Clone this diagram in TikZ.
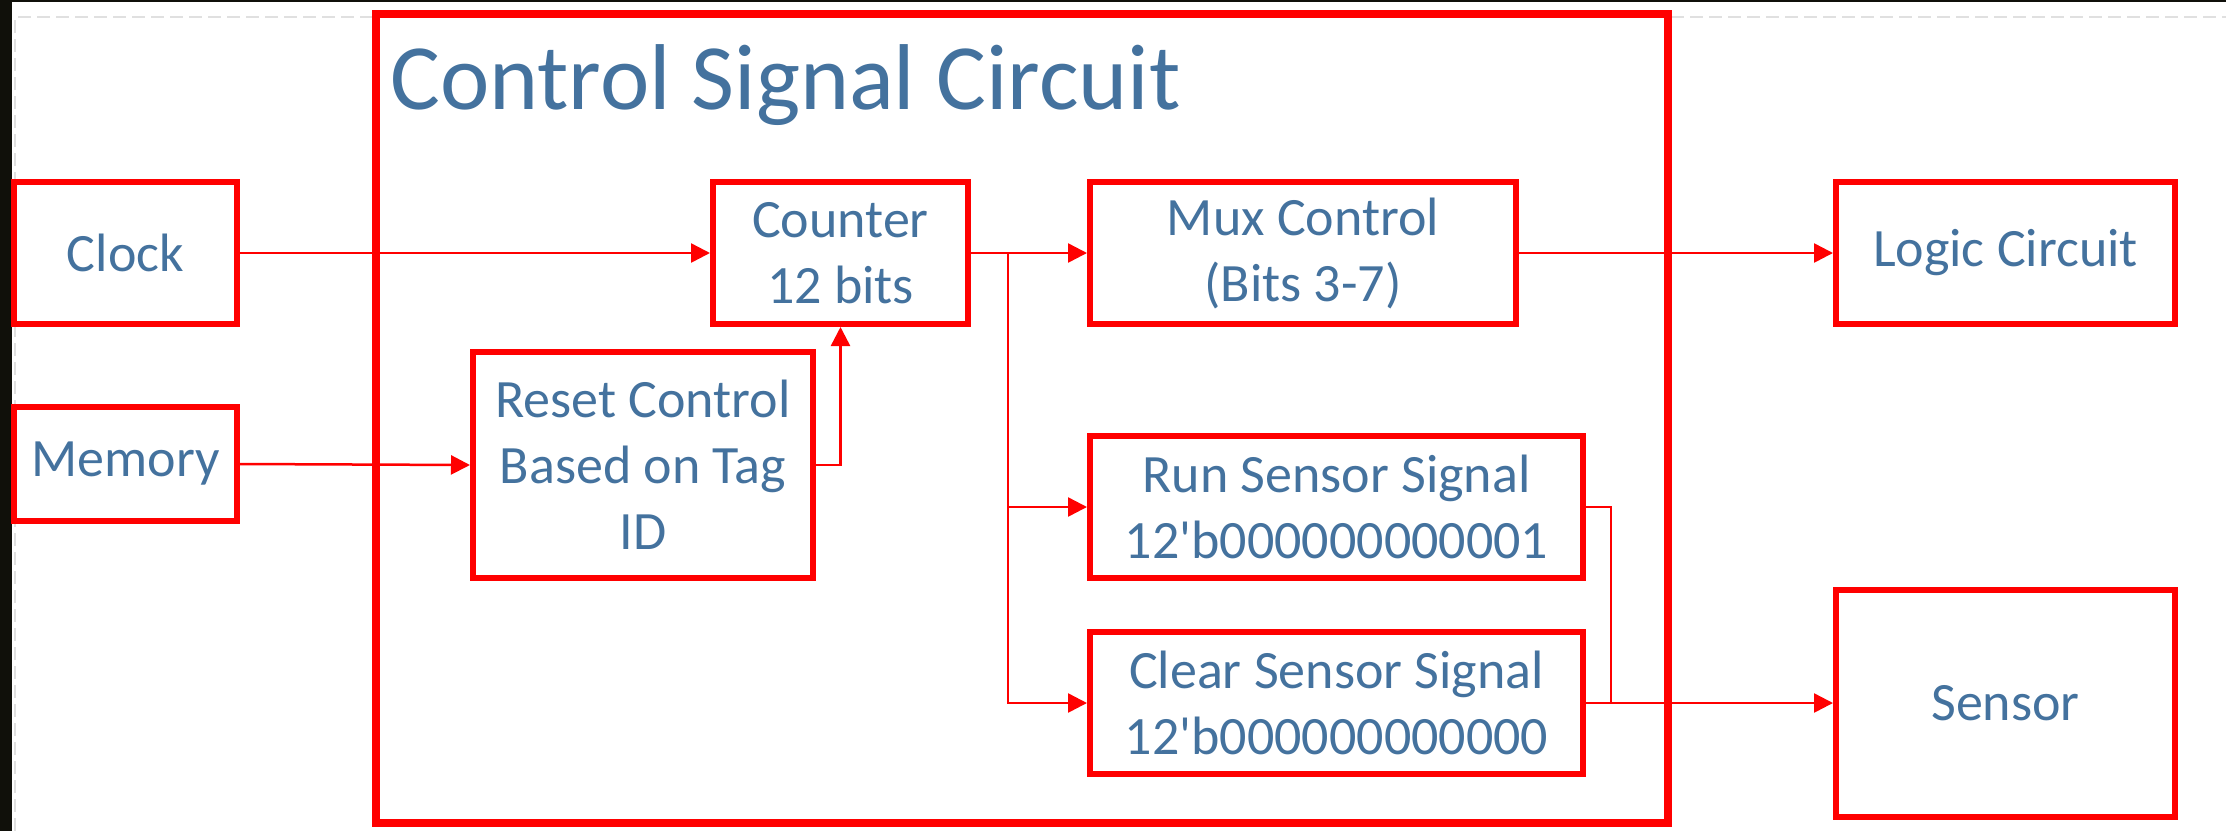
\documentclass[tikz,border=0pt]{standalone}
\usepackage{fontspec}
\setmainfont{Carlito}
\usetikzlibrary{arrows.meta}
\definecolor{boxred}{RGB}{255,0,0}
\definecolor{labelblue}{RGB}{68,114,158}
\definecolor{frameband}{RGB}{16,16,10}
\begin{document}
\begin{tikzpicture}[x=1pt,y=-1pt,
  blk/.style={draw=boxred, line width=6pt, fill=white, text=labelblue,
    align=center, inner sep=0pt, font=\fontsize{54}{66}\selectfont},
  wire/.style={draw=boxred, line width=2.5pt},
  arr/.style={wire, -{Triangle[length=19pt,width=19pt]}}]
\useasboundingbox (0,0) rectangle (2226,831);
% page background and screen edges
\fill[white] (0,0) rectangle (2226,831);
\fill[frameband] (0,0) rectangle (12,831);
\fill[frameband] (0,0) rectangle (2226,2);
\draw[black!12, line width=2pt, dash pattern=on 13pt off 6pt] (15,831) -- (15,17) -- (2226,17);

% enclosing block
\node[draw=boxred, line width=8pt, minimum width=1292pt, minimum height=809pt, inner sep=0pt]
  (csc) at (1022,418.5) {};
\node[anchor=base west, text=labelblue, inner sep=0pt, font=\fontsize{93.5}{112}\selectfont]
  (title) at (390,109) {Control Signal Circuit};

% blocks
\node[blk, minimum width=223pt, minimum height=142pt] (clock)   at (125.5,253) {Clock};
\node[blk, minimum width=223pt, minimum height=114pt] (memory)  at (125.5,464) {Memory};
\node[blk, minimum width=255pt, minimum height=142pt] (counter) at (840.5,253) {Counter\\12 bits};
\node[blk, minimum width=340pt, minimum height=226pt] (reset)   at (643,465) {Reset Control\\Based on Tag\\ID};
\node[blk, minimum width=426pt, minimum height=142pt] (mux)     at (1303,253) {Mux Control\\(Bits 3-7)};
\node[blk, minimum width=339pt, minimum height=142pt] (logic)   at (2005.5,253) {Logic Circuit};
\node[blk, minimum width=493pt, minimum height=142pt] (run)     at (1336.5,507) {Run Sensor Signal\\12\textquotesingle b000000000001};
\node[blk, minimum width=493pt, minimum height=142pt] (clear)   at (1336.5,703) {Clear Sensor Signal\\12\textquotesingle b000000000000};
\node[blk, minimum width=339pt, minimum height=227pt] (sensor)  at (2005.5,703) {Sensor};

% connectors
\coordinate (split) at (1008,253);
\coordinate (merge) at (1611,703);
\draw[arr] (clock.east) -- (counter.west);
\draw[arr] (memory.east) -- (reset.west);
\draw[arr] (reset.east) -| (counter.south);
\draw[arr] (counter.east) -- (mux.west);
\draw[arr] (split) |- (run.west);
\draw[arr] (split) |- (clear.west);
\draw[arr] (mux.east) -- (logic.west);
\draw[wire] (run.east) -| (merge);
\draw[arr] (clear.east) -- (sensor.west);
\end{tikzpicture}
\end{document}
